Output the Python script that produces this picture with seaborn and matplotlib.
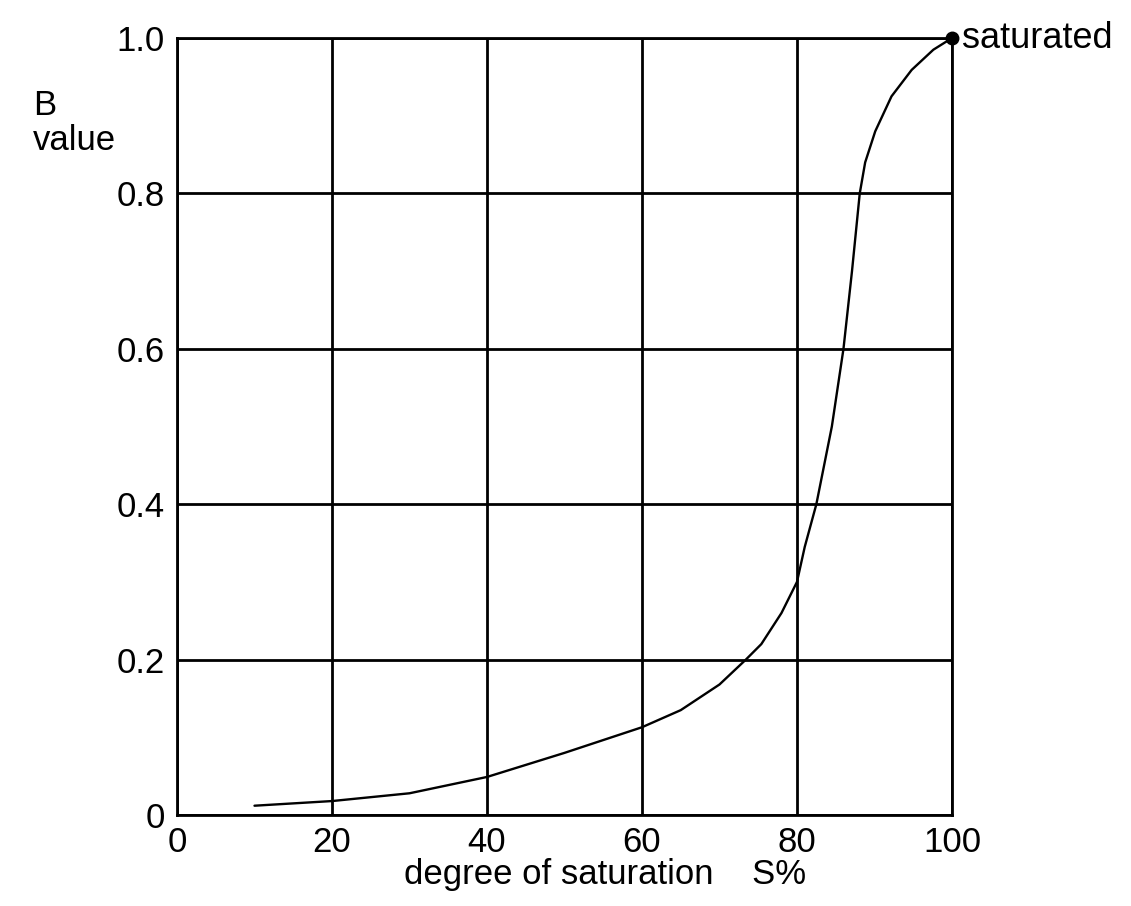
import matplotlib
matplotlib.use('Agg')
import matplotlib.pyplot as plt
import seaborn as sns
import pandas as pd

# B value vs degree of saturation
saturation = [10, 20, 30, 40, 50, 60, 65, 70, 73.4, 75.4, 78, 80, 81.0, 82.5,
              84.5, 86.0, 87.1, 88.1, 88.8, 90.1, 92.2, 94.8, 97.6, 100]
b_value = [0.012, 0.018, 0.028, 0.049, 0.08, 0.113, 0.135, 0.168, 0.2, 0.22, 0.26, 0.30, 0.345, 0.40,
           0.50, 0.60, 0.70, 0.80, 0.84, 0.88, 0.925, 0.959, 0.985, 1.0]

x_ticks = [0, 20, 40, 60, 80, 100]
y_ticks = [0, 0.2, 0.4, 0.6, 0.8, 1.0]
y_ticklabels = ["0", "0.2", "0.4", "0.6", "0.8", "1.0"]

df = pd.DataFrame({"S": saturation, "B": b_value})

sns.set_style("white")
plt.rcParams['font.family'] = ['Liberation Sans', 'DejaVu Sans']
plt.rcParams['text.color'] = 'black'
plt.rcParams['xtick.color'] = 'black'
plt.rcParams['ytick.color'] = 'black'
plt.rcParams['axes.labelcolor'] = 'black'
fs = 25

fig = plt.figure(figsize=(11.31, 9.06), dpi=100)
ax = fig.add_axes([0.1565, 0.1004, 0.6852, 0.8576])

sns.lineplot(data=df, x="S", y="B", ax=ax, color="black", linewidth=1.7, sort=False,
             solid_joinstyle="round", solid_capstyle="round")
ax.plot([100], [1.0], "o", color="black", markersize=9, clip_on=False, zorder=5)
ax.text(101.3, 1.0, "saturated", fontsize=26, va="center", ha="left")

ax.set_xlim(0, 100)
ax.set_ylim(0, 1.0)
ax.set_xticks(x_ticks)
ax.set_yticks(y_ticks)
ax.set_yticklabels(y_ticklabels)
ax.tick_params(axis="y", length=0, labelsize=fs, pad=9)
ax.tick_params(axis="x", length=0, labelsize=fs, pad=8)
ax.grid(True, color="black", linewidth=2)
for s in ax.spines.values():
    s.set_color("black")
    s.set_linewidth(2)

ax.set_xlabel("degree of saturation    S%", fontsize=fs, labelpad=2)
ax.xaxis.set_label_coords(0.552, -0.055)
ax.xaxis.label.set_va("top")
ax.set_ylabel("")
fig.text(33 / 1131, 1 - 123 / 906, "B\nvalue", fontsize=fs, ha="left", va="center", linespacing=1.05)

fig.savefig("out.png", dpi=100)
